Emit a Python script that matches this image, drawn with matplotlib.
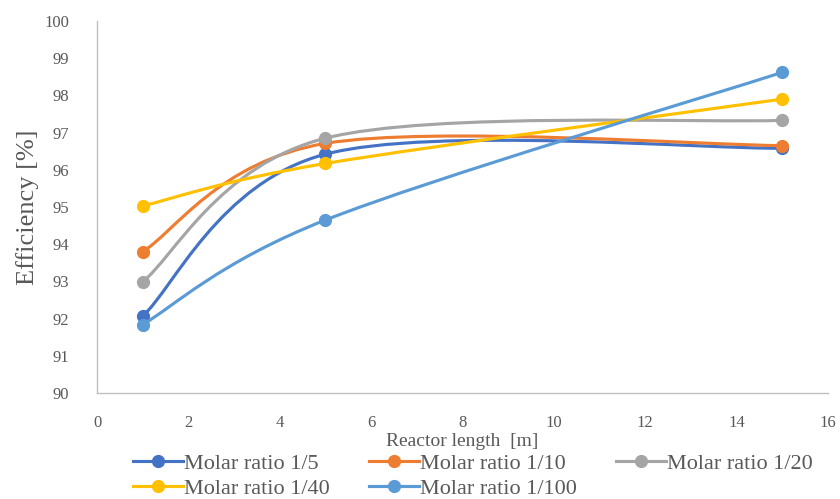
import numpy as np
import matplotlib
matplotlib.use('Agg')
import matplotlib.pyplot as plt
from matplotlib.path import Path
from matplotlib.patches import PathPatch
from matplotlib.lines import Line2D

plt.rcParams['font.family'] = ['Liberation Serif', 'DejaVu Serif']

# Data
reactor_length = [1, 5, 15]
ratio_labels = ['Molar ratio 1/5', 'Molar ratio 1/10', 'Molar ratio 1/20',
                'Molar ratio 1/40', 'Molar ratio 1/100']
eff_1_5 = [92.07, 96.42, 96.58]
eff_1_10 = [93.80, 96.71, 96.65]
eff_1_20 = [92.99, 96.85, 97.33]
eff_1_40 = [95.03, 96.17, 97.90]
eff_1_100 = [91.84, 94.65, 98.62]
x_ticks = [0, 2, 4, 6, 8, 10, 12, 14, 16]
y_ticks = [90, 91, 92, 93, 94, 95, 96, 97, 98, 99, 100]

series = [eff_1_5, eff_1_10, eff_1_20, eff_1_40, eff_1_100]
colors = ['#4472C4', '#ED7D31', '#A5A5A5', '#FFC000', '#5B9BD5']
text_grey = '#595959'


def smooth_path(x, y):
    # Excel-like smoothed line: cubic bezier segments through the points
    pts = np.column_stack([x, y]).astype(float)
    padded = np.vstack([pts[0], pts, pts[-1]])
    verts = [pts[0]]
    codes = [Path.MOVETO]
    for i in range(len(pts) - 1):
        c1 = pts[i] + (padded[i + 2] - padded[i]) / 6
        c2 = pts[i + 1] - (padded[i + 3] - padded[i + 1]) / 6
        verts += [c1, c2, pts[i + 1]]
        codes += [Path.CURVE4] * 3
    return Path(verts, codes)


fig = plt.figure(figsize=(8.4, 4.99), dpi=100)
ax = fig.add_axes([97 / 840, 1 - 393 / 499, (828 - 97) / 840, (393 - 21) / 499])

handles = []
for vals, col, lab in zip(series, colors, ratio_labels):
    patch = PathPatch(smooth_path(reactor_length, vals), fill=False, edgecolor=col,
                      lw=2.25, capstyle='round', joinstyle='round')
    ax.add_patch(patch)
    ax.plot(reactor_length, vals, 'o', color=col, ms=8.5, zorder=patch.get_zorder())
    handles.append(Line2D([], [], color=col, lw=2.25, marker='o', ms=8.5, label=lab))

ax.set_xlim(0, 16)
ax.set_ylim(90, 100)
ax.set_xticks(x_ticks)
ax.set_yticks(y_ticks)
ax.tick_params(axis='both', length=0, labelsize=12, labelcolor=text_grey)
ax.tick_params(axis='x', pad=16)
ax.tick_params(axis='y', pad=20)

for side in ['top', 'right']:
    ax.spines[side].set_visible(False)
for side in ['left', 'bottom']:
    ax.spines[side].set_color('#BFBFBF')
    ax.spines[side].set_linewidth(1.0)

ax.set_xlabel('Reactor length  [m]', fontsize=14, color=text_grey, labelpad=1.5)
ax.set_ylabel('Efficiency [%]', fontsize=19, color=text_grey, labelpad=4)

# legend is filled row-wise in the original
order = [0, 3, 1, 4, 2]
fig.legend([handles[i] for i in order], [ratio_labels[i] for i in order],
           loc='upper left', bbox_to_anchor=(133 / 840, 1 - 453 / 499),
           ncol=3, frameon=False, fontsize=16, labelcolor=text_grey,
           handlelength=2.25, handletextpad=0.05, columnspacing=1.75,
           labelspacing=0.22, borderpad=0, borderaxespad=0)

fig.savefig('out.png', dpi=100)
